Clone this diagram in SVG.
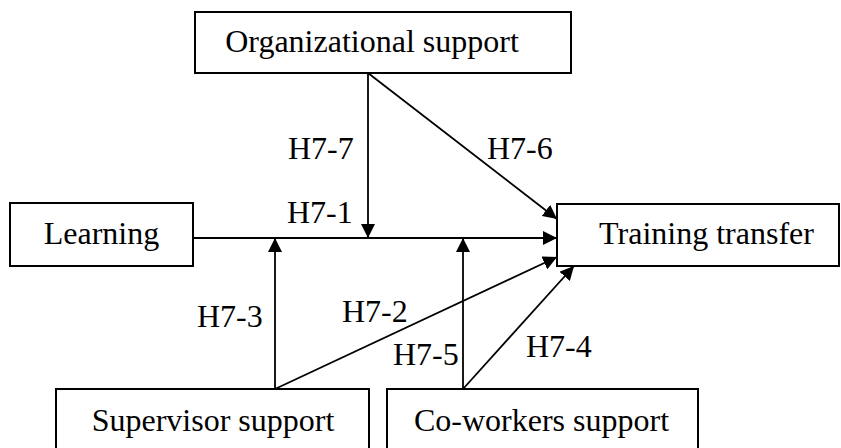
<svg xmlns="http://www.w3.org/2000/svg" width="841" height="448" viewBox="0 0 841 448" font-family="'Liberation Serif', 'Times New Roman', Times, 'DejaVu Serif', serif">
<style>
.box{fill:#fff;stroke:#000;stroke-width:2}
text{font-family:'Liberation Serif', 'Times New Roman', Times, 'DejaVu Serif', serif;font-size:32px;fill:#000}
.c{text-anchor:middle}
.ln{stroke:#000;stroke-width:1.8;fill:none}
.a{marker-end:url(#arr)}
</style>
<defs>
<marker id="arr" markerUnits="userSpaceOnUse" markerWidth="14" markerHeight="14" refX="14" refY="7" orient="auto">
<path d="M0,0 L14,7 L0,14 z" fill="#000"/>
</marker>
</defs>
<rect width="841" height="448" fill="#fff"/>
<g id="connectors">
<line class="ln a" x1="193" y1="238" x2="557" y2="238"/>
<line class="ln a" x1="368" y1="73" x2="368" y2="238"/>
<line class="ln a" x1="368" y1="73" x2="557" y2="219"/>
<line class="ln a" x1="275" y1="389" x2="275" y2="238"/>
<line class="ln a" x1="275" y1="389" x2="557" y2="257"/>
<line class="ln a" x1="463" y1="389" x2="463" y2="238"/>
<line class="ln a" x1="463" y1="389" x2="574" y2="266"/>
<text x="288" y="159">H7-7</text>
<text x="287" y="223">H7-1</text>
<text x="487" y="159">H7-6</text>
<text x="197" y="327">H7-3</text>
<text x="342" y="322">H7-2</text>
<text x="393" y="365">H7-5</text>
<text x="526" y="357">H7-4</text>
</g>
<g id="org">
<rect class="box" x="195" y="12" width="376" height="61"/>
<text class="c" x="372" y="52">Organizational support</text>
</g>
<g id="learning">
<rect class="box" x="10" y="203" width="183" height="63"/>
<text class="c" x="101.5" y="244">Learning</text>
</g>
<g id="training">
<rect class="box" x="557" y="204" width="282" height="62"/>
<text class="c" x="706.5" y="244">Training transfer</text>
</g>
<g id="supervisor">
<rect class="box" x="56" y="389" width="313" height="62"/>
<text class="c" x="213" y="431">Supervisor support</text>
</g>
<g id="coworkers">
<rect class="box" x="387" y="389" width="311" height="62"/>
<text class="c" x="541.5" y="431">Co-workers support</text>
</g>
</svg>
